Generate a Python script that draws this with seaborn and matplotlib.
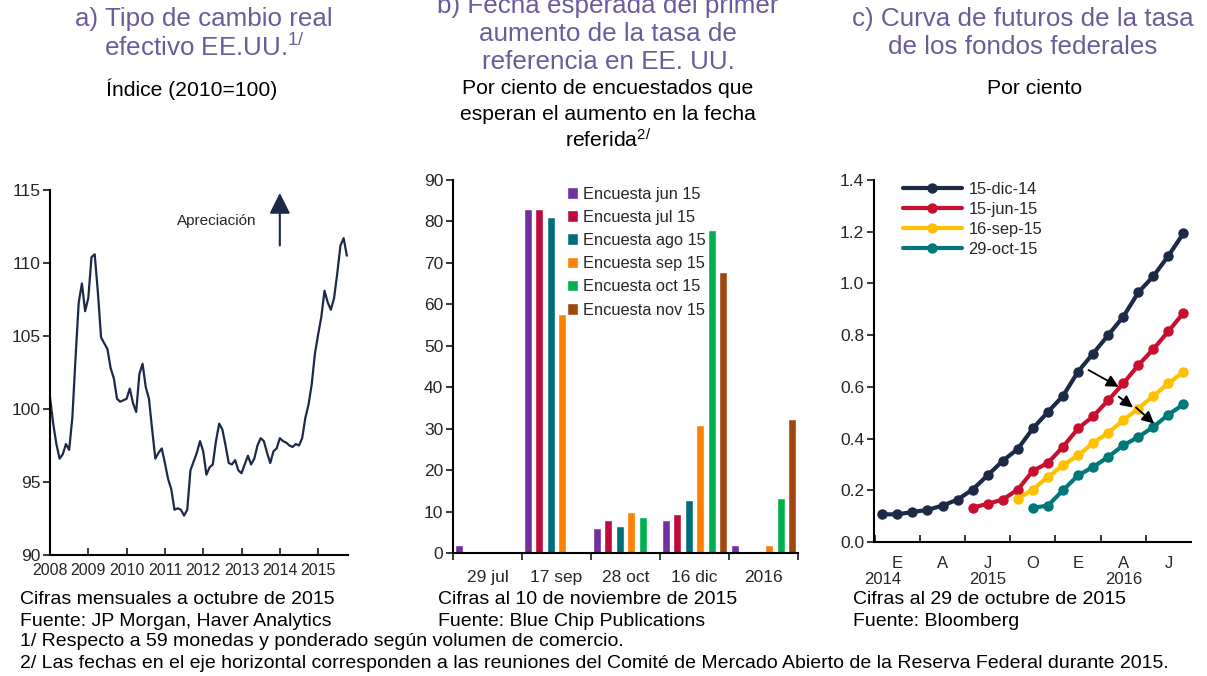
import numpy as np
import pandas as pd
import matplotlib
matplotlib.use("Agg")
import matplotlib.pyplot as plt
import seaborn as sns

# ---------------- data ----------------
# a) Real effective exchange rate USA, monthly Jan-2008 .. Oct-2015
reer_start_year = 2008
reer_values = [100.8, 99.0, 97.6, 96.6, 96.9, 97.6, 97.2, 99.4, 103.5, 107.3,
               108.6, 106.7, 107.6, 110.4, 110.6, 108.0, 104.9, 104.5, 104.1, 102.8,
               102.1, 100.7, 100.5, 100.6, 100.7, 101.4, 100.4, 99.8, 102.4, 103.1,
               101.5, 100.7, 98.6, 96.6, 97.0, 97.3, 96.3, 95.2, 94.5, 93.1,
               93.2, 93.1, 92.7, 93.1, 95.8, 96.4, 97.0, 97.8, 97.1, 95.5,
               96.0, 96.2, 97.8, 99.0, 98.6, 97.5, 96.3, 96.2, 96.5, 95.8,
               95.6, 96.2, 96.8, 96.2, 96.6, 97.5, 98.0, 97.8, 97.0, 96.3,
               97.1, 97.3, 98.0, 97.8, 97.7, 97.5, 97.4, 97.6, 97.5, 98.0,
               99.4, 100.3, 101.7, 103.8, 105.1, 106.3, 108.1, 107.3, 106.8, 107.6,
               109.3, 111.2, 111.7, 110.5]
reer_years = [2008, 2009, 2010, 2011, 2012, 2013, 2014, 2015]

# b) Expected date of first Fed hike (% of respondents)
fomc_dates = ["29 jul", "17 sep", "28 oct", "16 dic", "2016"]
surveys = ["Encuesta jun 15", "Encuesta jul 15", "Encuesta ago 15",
           "Encuesta sep 15", "Encuesta oct 15", "Encuesta nov 15"]
enc_jun15 = [2, 83, 6, 8, 2]
enc_jul15 = [0, 83, 8, 9.3, 0]
enc_ago15 = [0, 81, 6.4, 12.8, 0]
enc_sep15 = [0, 57.6, 9.8, 30.8, 2]
enc_oct15 = [0, 0, 8.8, 78, 13.3]
enc_nov15 = [0, 0, 0, 67.8, 32.3]

# c) Fed funds futures curves (monthly contracts Dec-2014 .. Aug-2016)
contract_months = pd.period_range("2014-12", "2016-08", freq="M")
curve_names = ["15-dic-14", "15-jun-15", "16-sep-15", "29-oct-15"]
curve_first_month = ["2014-12", "2015-06", "2015-09", "2015-10"]
curve_dic14 = [0.107, 0.107, 0.116, 0.124, 0.141, 0.164, 0.203, 0.258, 0.314, 0.360,
               0.439, 0.503, 0.565, 0.659, 0.729, 0.800, 0.871, 0.965, 1.028, 1.107, 1.194]
curve_jun15 = [0.133, 0.148, 0.164, 0.203, 0.275, 0.306, 0.368, 0.439, 0.486, 0.548,
               0.613, 0.684, 0.746, 0.815, 0.886]
curve_sep15 = [0.168, 0.203, 0.252, 0.297, 0.335, 0.383, 0.422, 0.471, 0.516, 0.565,
               0.613, 0.658]
curve_oct15 = [0.132, 0.141, 0.200, 0.258, 0.290, 0.329, 0.374, 0.406, 0.445, 0.493,
               0.532]
quarter_labels = ["E", "A", "J", "O", "E", "A", "J"]
quarter_months = ["2015-01", "2015-04", "2015-07", "2015-10", "2016-01", "2016-04", "2016-07"]
year_labels = ["2014", "2015", "2016"]
year_label_months = ["2014-12", "2015-07", "2016-04"]

# ---------------- style ----------------
sns.set_theme(style="white")
plt.rcParams['font.family'] = ['Liberation Sans', 'DejaVu Sans']
plt.rcParams['mathtext.fontset'] = 'custom'
plt.rcParams['mathtext.rm'] = 'Liberation Sans'
plt.rcParams['mathtext.it'] = 'Liberation Sans'
plt.rcParams['axes.linewidth'] = 1.5
plt.rcParams['axes.edgecolor'] = 'black'

TITLE_C = "#6C5B9B"
NAVY = "#1C2A48"
bar_colors = ["#7030A0", "#C00A3A", "#006E7A", "#FF7F00", "#00B050", "#A0460F"]
curve_colors = ["#1C2A48", "#C8102E", "#FFC000", "#00787A"]
TICK_FS = 12.5

W, H = 1207, 676
fig = plt.figure(figsize=(W / 100, H / 100), dpi=100)


def ax_rect(x0, x1, ytop, ybot):
    return [x0 / W, 1 - ybot / H, (x1 - x0) / W, (ybot - ytop) / H]


def ftext(x, y, s, **kw):
    fig.text(x / W, 1 - y / H, s, **kw)


# ---------------- panel a ----------------
ax1 = fig.add_axes(ax_rect(50, 348, 190, 555))
df_a = pd.DataFrame({"fecha": reer_start_year + np.arange(len(reer_values)) / 12.0,
                     "indice": reer_values})
sns.lineplot(data=df_a, x="fecha", y="indice", color=NAVY, linewidth=1.6, ax=ax1)
ax1.set_xlim(reer_start_year, reer_start_year + 7.78)
ax1.set_ylim(90, 115)
ax1.set_yticks([90, 95, 100, 105, 110, 115])
ax1.set_xticks(reer_years)
ax1.set_xticklabels([str(y) for y in reer_years])
ax1.tick_params(axis="y", direction="out", length=5, width=1.3, labelsize=TICK_FS, pad=2, left=True)
ax1.tick_params(axis="x", direction="in", length=5, width=1.3, labelsize=11.5, pad=6, bottom=True)
ax1.set_xlabel("")
ax1.set_ylabel("")
for s in ["top", "right"]:
    ax1.spines[s].set_visible(False)
ax1.annotate("", xy=(2014.0, 114.8), xytext=(2014.0, 111.2),
             arrowprops=dict(arrowstyle="-|>,head_length=0.9,head_width=0.45",
                             color=NAVY, lw=1.5, mutation_scale=14, shrinkA=0, shrinkB=0))
ax1.text(2013.4, 112.85, "Apreciación", ha="right", va="center", fontsize=11)

# ---------------- panel b ----------------
ax2 = fig.add_axes(ax_rect(453, 798, 180, 553))
rows = []
for name, vals in zip(surveys, [enc_jun15, enc_jul15, enc_ago15, enc_sep15, enc_oct15, enc_nov15]):
    for d, v in zip(fomc_dates, vals):
        rows.append({"fecha": d, "pct": v, "encuesta": name})
df_b = pd.DataFrame(rows)
sns.barplot(data=df_b, x="fecha", y="pct", hue="encuesta", order=fomc_dates,
            hue_order=surveys, palette=bar_colors, width=1.0, gap=0.3,
            saturation=1, ax=ax2, errorbar=None)
ax2.set_xlim(-0.5, len(fomc_dates) - 0.5)
ax2.set_ylim(0, 90)
ax2.set_yticks(range(0, 91, 10))
ax2.set_xticks(np.arange(len(fomc_dates) + 1) - 0.5)
ax2.set_xticklabels([""] * (len(fomc_dates) + 1))
ax2.set_xticks(np.arange(len(fomc_dates)), minor=True)
ax2.set_xticklabels(fomc_dates, minor=True)
ax2.tick_params(axis="x", which="major", direction="out", length=5, width=1.3, bottom=True)
ax2.tick_params(axis="x", which="minor", length=0, labelsize=TICK_FS, pad=12)
ax2.tick_params(axis="y", direction="out", length=5, width=1.3, labelsize=TICK_FS, pad=2, left=True)
ax2.set_xlabel("")
ax2.set_ylabel("")
for s in ["top", "right"]:
    ax2.spines[s].set_visible(False)
h, l = ax2.get_legend_handles_labels()
ax2.legend(h, l, loc="upper left", bbox_to_anchor=(0.31, 1.0), frameon=False,
           fontsize=11.8, handlelength=0.7, handleheight=0.7, handletextpad=0.3,
           labelspacing=0.5, borderaxespad=0)

# ---------------- panel c ----------------
ax3 = fig.add_axes(ax_rect(874, 1191, 180, 542))
rows = []
for name, first, vals in zip(curve_names, curve_first_month,
                             [curve_dic14, curve_jun15, curve_sep15, curve_oct15]):
    start = contract_months.get_loc(pd.Period(first, freq="M"))
    for k, v in enumerate(vals):
        rows.append({"mes": start + k, "tasa": v, "curva": name})
df_c = pd.DataFrame(rows)
sns.lineplot(data=df_c, x="mes", y="tasa", hue="curva", hue_order=curve_names,
             palette=curve_colors, linewidth=3, marker="o", markersize=7.5,
             markeredgewidth=0, ax=ax3)
n_m = len(contract_months)
ax3.set_xlim(-0.55, n_m - 0.5)
ax3.set_ylim(0, 1.4)
ax3.set_yticks(np.arange(0, 1.41, 0.2))
ax3.yaxis.set_major_formatter(matplotlib.ticker.FormatStrFormatter("%.1f"))
ax3.set_xticks(np.arange(-0.5, n_m - 1, 3))
ax3.set_xticklabels([""] * len(np.arange(-0.5, n_m - 1, 3)))
qpos = [contract_months.get_loc(pd.Period(m, freq="M")) for m in quarter_months]
ax3.set_xticks(qpos, minor=True)
ax3.set_xticklabels(quarter_labels, minor=True)
ax3.tick_params(axis="x", which="major", direction="in", length=5, width=1.3, bottom=True)
ax3.tick_params(axis="x", which="minor", length=0, labelsize=12, pad=10)
ax3.tick_params(axis="y", direction="out", length=5, width=1.3, labelsize=TICK_FS, pad=2, left=True)
ax3.set_xlabel("")
ax3.set_ylabel("")
for s in ["top", "right"]:
    ax3.spines[s].set_visible(False)
for lab, m in zip(year_labels, year_label_months):
    xi = contract_months.get_loc(pd.Period(m, freq="M"))
    ax3.text(xi, -0.104, lab, transform=ax3.get_xaxis_transform(), ha="center",
             va="center", fontsize=12)
for (x0, y0), (x1, y1) in [((13.7, 0.665), (15.7, 0.600)),
                           ((15.7, 0.562), (16.65, 0.520)),
                           ((16.85, 0.520), (18.05, 0.458))]:
    ax3.annotate("", xy=(x1, y1), xytext=(x0, y0),
                 arrowprops=dict(arrowstyle="-|>,head_length=0.6,head_width=0.3",
                                 color="black", lw=1.3, mutation_scale=12,
                                 shrinkA=0, shrinkB=0))
h, l = ax3.get_legend_handles_labels()
ax3.legend(h, l, loc="upper left", bbox_to_anchor=(0.07, 1.013), frameon=False,
           fontsize=11.8, handlelength=3.6, handletextpad=0.4, labelspacing=0.3,
           borderaxespad=0)

# ---------------- titles ----------------
tkw = dict(ha="center", va="center", fontsize=18.7, color=TITLE_C)
ftext(204, 19, "a) Tipo de cambio real", **tkw)
ftext(204, 47, r"efectivo EE.UU.$^{1/}$", **tkw)
ftext(608, 6, "b) Fecha esperada del primer", **tkw)
ftext(608, 34, "aumento de la tasa de", **tkw)
ftext(608, 62, "referencia en EE. UU.", **tkw)
ftext(1023, 19, "c) Curva de futuros de la tasa", **tkw)
ftext(1023, 47, "de los fondos federales", **tkw)

skw = dict(ha="center", va="center", fontsize=15.2, color="black")
ftext(192, 89, "Índice (2010=100)", **skw)
ftext(608, 89, "Por ciento de encuestados que", **skw)
ftext(608, 115, "esperan el aumento en la fecha", **skw)
ftext(608, 140, r"referida$^{2/}$", **skw)
ftext(1035, 89, "Por ciento", **skw)

nkw = dict(ha="left", va="center", fontsize=14, color="black")
ftext(20, 600, "Cifras mensuales a octubre de 2015", **nkw)
ftext(20, 621, "Fuente: JP Morgan, Haver Analytics", **nkw)
ftext(438, 600, "Cifras al 10 de noviembre de 2015", **nkw)
ftext(438, 621, "Fuente: Blue Chip Publications", **nkw)
ftext(853, 600, "Cifras al 29 de octubre de 2015", **nkw)
ftext(853, 621, "Fuente: Bloomberg", **nkw)
ftext(20, 642, "1/ Respecto a 59 monedas y ponderado según volumen de comercio.", **nkw)
ftext(20, 664, "2/ Las fechas en el eje horizontal corresponden a las reuniones del Comité "
               "de Mercado Abierto de la Reserva Federal durante 2015.", **nkw)

fig.savefig("out.png", dpi=100)
